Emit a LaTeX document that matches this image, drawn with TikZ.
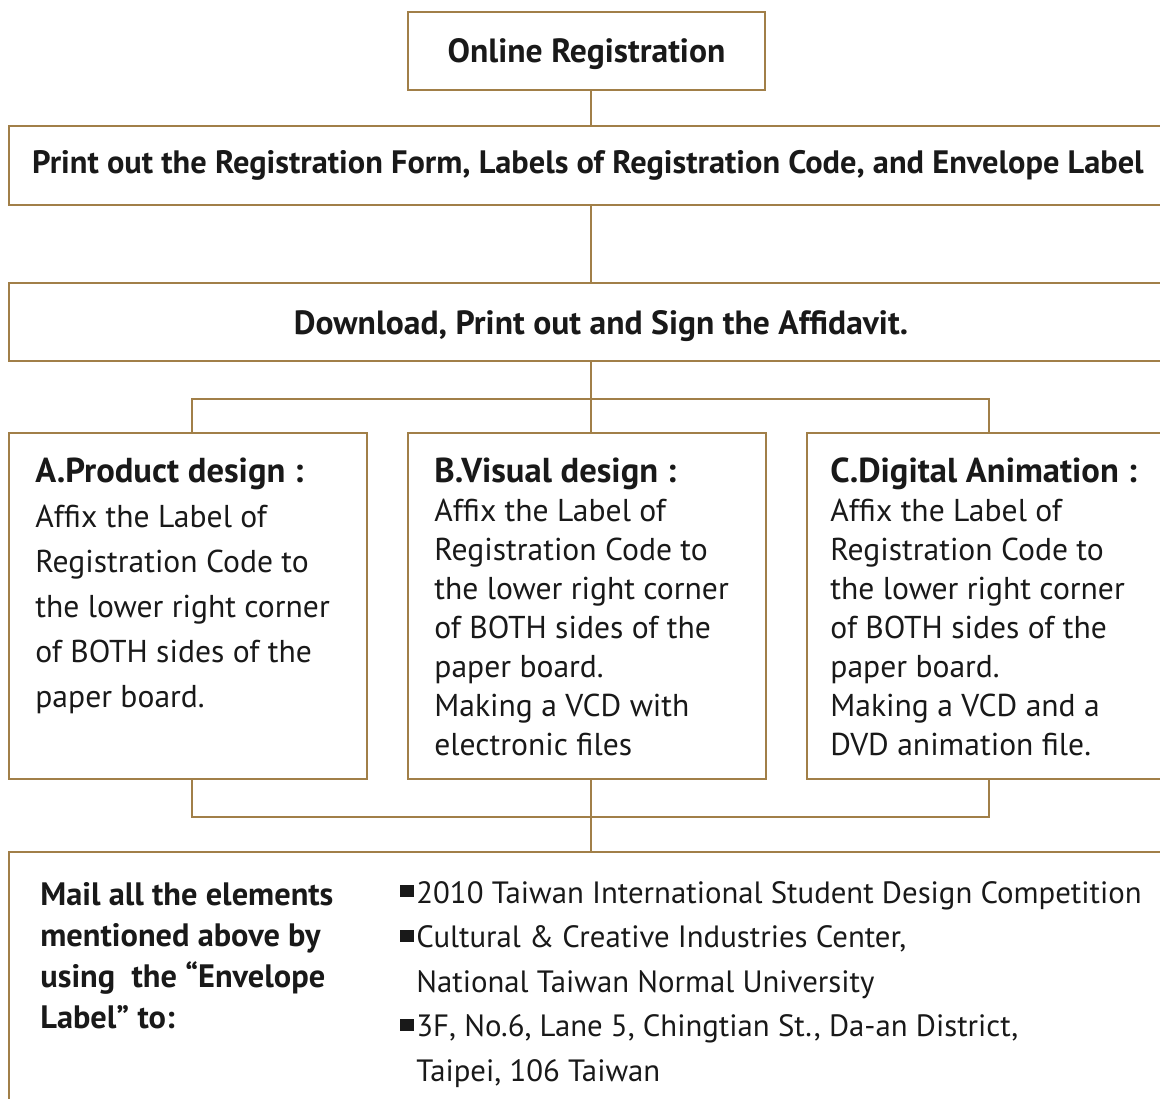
\documentclass[tikz,border=0pt]{standalone}
\usepackage{fontspec}
\setmainfont{PT Sans}
\definecolor{frame}{RGB}{161,127,72}

\tikzset{
  box/.style={draw=frame, line width=1pt, inner sep=0pt},
  link/.style={draw=frame, line width=1pt},
  head/.style={font=\bfseries\fontsize{16.8}{20}\selectfont, text=black!90},
  title/.style={anchor=base west, inner sep=0pt, text=black!90, font=\bfseries\fontsize{17.3}{20}\selectfont},
  body/.style={align=left, anchor=base west, inner sep=0pt, text=black!90},
}
\newcommand{\sqbullet}{\rule[3pt]{7pt}{6pt}\hspace{1pt}}

\begin{document}
\begin{tikzpicture}[x=0.5pt,y=-0.5pt]
\useasboundingbox (0,0) rectangle (1160,1098);
\clip (0,0) rectangle (1160,1098);

% steps
\node[box, head, text depth=0pt, minimum width=178.5pt, minimum height=39pt] (online) at (586.5,51) {Online Registration};
\node[box, head, font=\bfseries\fontsize{16.2}{20}\selectfont, minimum width=579pt, minimum height=39.5pt] (print) at (588,165.5)
  {Print out the Registration Form, Labels of Registration Code, and Envelope Label};
\node[box, head, text depth=0pt, minimum width=592pt, minimum height=39pt] (download) at (601,322) {Download, Print out and Sign the Affidavit.};

% three categories
\node[box, minimum width=179pt, minimum height=173pt] (prodA) at (188,606) {};
\node[box, minimum width=179pt, minimum height=173pt] (visB) at (587,606) {};
\node[box, minimum width=186.5pt, minimum height=173pt] (animC) at (993.5,606) {};

\node[title] (titleA) at (35,482) {A.Product design :};
\node[body, font=\fontsize{15.8}{22.5}\selectfont] (textA) at (35,707)
  {Affix the Label of\\ Registration Code to\\
   the lower right corner\\ of BOTH sides of the\\ paper board.};
\node[title] (titleB) at (434,482) {B.Visual design :};
\node[body, font=\fontsize{15.8}{19.5}\selectfont] (textB) at (434,755)
  {Affix the Label of\\ Registration Code to\\
   the lower right corner\\ of BOTH sides of the\\ paper board.\\
   Making a VCD with\\ electronic files};
\node[title] (titleC) at (830,482) {C.Digital Animation :};
\node[body, font=\fontsize{15.8}{19.5}\selectfont] (textC) at (830,755)
  {Affix the Label of\\ Registration Code to\\
   the lower right corner\\ of BOTH sides of the\\ paper board.\\
   Making a VCD and a\\ DVD animation file.};

% mailing
\node[box, minimum width=585.5pt, minimum height=129pt] (mail) at (594.5,981) {};
\node[body, font=\bfseries\fontsize{16.2}{20.5}\selectfont] (mailtext) at (40,1028)
  {Mail all the elements\\ mentioned above by\\ using\ \ the “Envelope\\ Label” to:};
\node[body, font=\fontsize{15.4}{22.25}\selectfont] (address) at (400,1081)
  {\sqbullet 2010 Taiwan International Student Design Competition\\
   \sqbullet Cultural \& Creative Industries Center,\\
   \phantom{\sqbullet}National Taiwan Normal University\\
   \sqbullet 3F, No.6, Lane 5, Chingtian St., Da-an District,\\
   \phantom{\sqbullet}Taipei, 106 Taiwan};

% connectors
\coordinate (split) at (591,399);
\coordinate (merge) at (591,817);
\coordinate (tapA) at (192,399);
\coordinate (tapC) at (989,399);
\coordinate (dropA) at (192,817);
\coordinate (dropC) at (989,817);

\draw[link] (online.south -| split) -- (print.north -| split);
\draw[link] (print.south -| split) -- (download.north -| split);
\draw[link] (download.south -| split) -- (visB.north -| split);
\draw[link] (prodA.north -| tapA) -- (tapA) -- (tapC) -- (animC.north -| tapC);
\draw[link] (prodA.south -| dropA) -- (dropA) -- (dropC) -- (animC.south -| dropC);
\draw[link] (visB.south -| merge) -- (mail.north -| merge);

\end{tikzpicture}
\end{document}
